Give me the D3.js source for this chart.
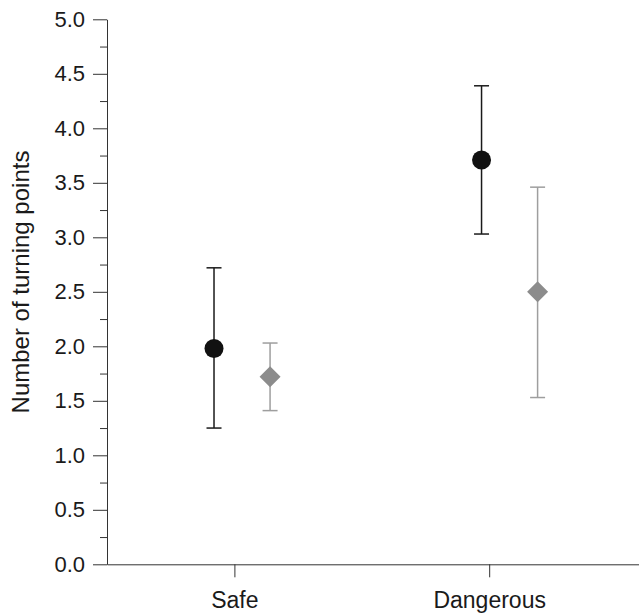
<!DOCTYPE html>
<html>
<head>
<meta charset="utf-8">
<script src="https://cdn.jsdelivr.net/npm/d3@7"></script>
<style>
  body { margin: 0; background: #fff; }
  svg { display: block; font-family: "Liberation Sans", Arial, sans-serif; }
</style>
</head>
<body>
<svg id="chart" width="639" height="613"></svg>
<script>
// Categories on the x axis and where each series' marker sits along it
const categories = ['Safe', 'Dangerous'];
const categoryX = [1, 2];
const blackX = [0.92, 1.97];
const grayX = [1.14, 2.19];

// Means and error bar limits (number of turning points)
const blackMean = [1.98, 3.71];
const blackLow = [1.25, 3.03];
const blackHigh = [2.72, 4.39];
const grayMean = [1.72, 2.50];
const grayLow = [1.41, 1.53];
const grayHigh = [2.03, 3.46];

const yTicks = [0, 0.5, 1, 1.5, 2, 2.5, 3, 3.5, 4, 4.5, 5];
const yMinorTicks = [0.25, 0.75, 1.25, 1.75, 2.25, 2.75, 3.25, 3.75, 4.25, 4.75];

const margin = {left: 107, right: 0, top: 19.3, bottom: 48.7};
const width = 639, height = 613;

const svg = d3.select('#chart');

const x = d3.scaleLinear()
  .domain([0.5, 2.588])
  .range([margin.left, width - margin.right]);
const y = d3.scaleLinear()
  .domain([0, 5])
  .range([height - margin.bottom, margin.top]);

// Y axis: major ticks with labels, minor ticks between them
svg.append('g')
  .attr('transform', `translate(${margin.left},0)`)
  .call(d3.axisLeft(y).tickValues(yTicks).tickFormat(d3.format('.1f'))
    .tickSize(14).tickPadding(8).tickSizeOuter(0))
  .call(g => g.selectAll('text').attr('font-size', 22).attr('fill', '#1a1a1a'))
  .call(g => g.selectAll('line, path').attr('stroke', '#333'));

svg.append('g')
  .attr('transform', `translate(${margin.left},0)`)
  .call(d3.axisLeft(y).tickValues(yMinorTicks).tickFormat('').tickSize(7).tickSizeOuter(0))
  .call(g => g.select('.domain').remove())
  .call(g => g.selectAll('line').attr('stroke', '#333'));

// X axis
svg.append('g')
  .attr('transform', `translate(0,${y(0)})`)
  .call(d3.axisBottom(x).tickValues(categoryX).tickFormat((d, i) => categories[i])
    .tickSize(13).tickPadding(14).tickSizeOuter(0))
  .call(g => g.selectAll('text').attr('font-size', 23).attr('fill', '#1a1a1a'))
  .call(g => g.selectAll('line, path').attr('stroke', '#333'));

svg.append('text')
  .attr('transform', `translate(29,282) rotate(-90)`)
  .attr('text-anchor', 'middle')
  .attr('font-size', 24)
  .attr('fill', '#1a1a1a')
  .text('Number of turning points');

function errorBars(xs, lows, highs, color) {
  const g = svg.append('g').attr('stroke', color).attr('stroke-width', 1.5);
  xs.forEach((xv, i) => {
    g.append('line')
      .attr('x1', x(xv)).attr('x2', x(xv))
      .attr('y1', y(lows[i])).attr('y2', y(highs[i]));
    [lows[i], highs[i]].forEach(v => g.append('line')
      .attr('x1', x(xv) - 7.5).attr('x2', x(xv) + 7.5)
      .attr('y1', y(v)).attr('y2', y(v)));
  });
}

errorBars(blackX, blackLow, blackHigh, '#1a1a1a');
errorBars(grayX, grayLow, grayHigh, '#9e9e9e');

svg.selectAll('circle.black')
  .data(blackMean)
  .enter()
  .append('circle')
  .classed('black', true)
  .attr('cx', (d, i) => x(blackX[i]))
  .attr('cy', d => y(d))
  .attr('r', 9.5)
  .attr('fill', '#111');

svg.selectAll('path.gray')
  .data(grayMean)
  .enter()
  .append('path')
  .classed('gray', true)
  .attr('d', (d, i) => {
    const cx = x(grayX[i]), cy = y(d), r = 10.5;
    return `M${cx},${cy - r}L${cx + r},${cy}L${cx},${cy + r}L${cx - r},${cy}Z`;
  })
  .attr('fill', '#8c8c8c');
</script>
</body>
</html>
